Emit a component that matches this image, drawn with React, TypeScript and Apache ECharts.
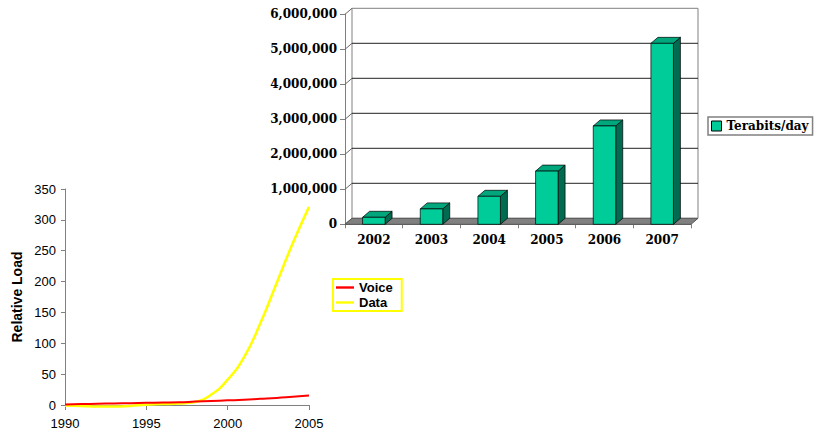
import React, { useEffect, useRef } from 'react';
import * as echarts from 'echarts';

// Left chart: relative load
const YEARS = [1990, 1991, 1992, 1993, 1994, 1995, 1996, 1997, 1998, 1999, 2000, 2001, 2002, 2003, 2004, 2005];
const VOICE = [1, 1.5, 2, 2.5, 3, 3.5, 4, 4.5, 5.5, 6.5, 7.5, 8.5, 10, 11.5, 13.5, 15.5];
const DATA = [-1, -1.5, -2.5, -2.5, -1.5, 0.5, 1.5, 2.5, 5, 17, 41, 77, 132, 197, 262, 321];

// Right chart: terabits/day
const BAR_YEARS = ['2002', '2003', '2004', '2005', '2006', '2007'];
const TERABITS = [200000, 440000, 800000, 1520000, 2810000, 5170000];
const BAR_TICKS = [0, 1000000, 2000000, 3000000, 4000000, 5000000, 6000000];

const DX = 7;
const DY = -6;

export default function App() {
  const ref = useRef<HTMLDivElement>(null);
  useEffect(() => {
    const chart = echarts.init(ref.current!, null, { renderer: 'svg' });
    const sans = 'Liberation Sans, Arial, sans-serif';
    const serif = 'DejaVu Serif, serif';
    const lineIcon = 'path://M0,0H18V2.4H0Z';
    const option: any = {
      animation: false,
      backgroundColor: '#fff',
      grid: [
        { left: 65, top: 189, width: 244, height: 216 },
        { left: 345, top: 14.3, width: 346, height: 210 },
      ],
      legend: [
        {
          data: [{ name: 'Voice', icon: lineIcon }, { name: 'Data', icon: lineIcon }],
          orient: 'vertical',
          left: 333,
          top: 279,
          padding: [2, 9, 2, 3],
          itemGap: 2,
          itemWidth: 18,
          itemHeight: 14,
          symbolKeepAspect: true,
          borderColor: '#ffff00',
          borderWidth: 2,
          selectedMode: false,
          textStyle: { fontFamily: sans, fontWeight: 'bold', fontSize: 13, color: '#000' },
        },
        {
          data: [{ name: 'Terabits/day', icon: 'rect', itemStyle: { borderColor: '#000', borderWidth: 1 } }],
          left: 708,
          top: 117,
          padding: [3, 4, 3, 3],
          itemWidth: 10,
          itemHeight: 10,
          borderColor: '#808080',
          borderWidth: 1.5,
          selectedMode: false,
          textStyle: { fontFamily: serif, fontWeight: 'bold', fontSize: 12, color: '#000' },
        },
      ],
      xAxis: [
        {
          gridIndex: 0,
          type: 'value',
          min: 1990,
          max: 2005,
          interval: 5,
          axisLine: { show: true, onZero: false, lineStyle: { color: '#808080' } },
          axisTick: { show: true, length: 5, lineStyle: { color: '#808080' } },
          axisLabel: { fontFamily: sans, fontSize: 13, color: '#000', margin: 12, formatter: (v: number) => String(v) },
          splitLine: { show: false },
        },
        {
          gridIndex: 1,
          type: 'category',
          data: BAR_YEARS,
          boundaryGap: true,
          axisLine: { show: true, lineStyle: { color: '#808080' } },
          axisTick: { show: true, length: 4, lineStyle: { color: '#808080' } },
          axisLabel: { fontFamily: serif, fontWeight: 'bold', fontSize: 12, color: '#000', margin: 10 },
          splitLine: { show: false },
        },
      ],
      yAxis: [
        {
          gridIndex: 0,
          type: 'value',
          min: 0,
          max: 350,
          interval: 50,
          name: 'Relative Load',
          nameLocation: 'middle',
          nameGap: 41,
          nameTextStyle: { fontFamily: sans, fontWeight: 'bold', fontSize: 14, color: '#000' },
          axisLine: { show: true, lineStyle: { color: '#808080' } },
          axisTick: { show: true, length: 4, lineStyle: { color: '#808080' } },
          axisLabel: { fontFamily: sans, fontSize: 13, color: '#000', margin: 9 },
          splitLine: { show: false },
        },
        {
          gridIndex: 1,
          type: 'value',
          min: 0,
          max: 6000000,
          interval: 1000000,
          axisLine: { show: true, lineStyle: { color: '#808080' } },
          axisTick: { show: true, length: 5, lineStyle: { color: '#808080' } },
          axisLabel: {
            fontFamily: serif,
            fontWeight: 'bold',
            fontSize: 12,
            color: '#000',
            margin: 8,
            formatter: (v: number) => v.toLocaleString('en-US'),
          },
          splitLine: { show: false },
        },
      ],
      series: [
        {
          name: 'Data',
          type: 'line',
          xAxisIndex: 0,
          yAxisIndex: 0,
          data: YEARS.map((y, i) => [y, DATA[i]]),
          symbol: 'none',
          smooth: 0.5,
          clip: false,
          lineStyle: { color: '#ffff00', width: 2.5 },
          itemStyle: { color: '#ffff00' },
          z: 2,
        },
        {
          name: 'Voice',
          type: 'line',
          xAxisIndex: 0,
          yAxisIndex: 0,
          data: YEARS.map((y, i) => [y, VOICE[i]]),
          symbol: 'none',
          smooth: 0.5,
          clip: false,
          lineStyle: { color: '#ff0000', width: 2 },
          itemStyle: { color: '#ff0000' },
          z: 3,
        },
        {
          name: 'frame',
          type: 'custom',
          xAxisIndex: 1,
          yAxisIndex: 1,
          data: [[0, 0]],
          silent: true,
          z: 1,
          renderItem: (params: any, api: any) => {
            const cs = params.coordSys;
            const x0 = cs.x;
            const x1 = cs.x + cs.width;
            const yb = cs.y + cs.height;
            const children: any[] = [];
            children.push({
              type: 'rect',
              shape: { x: x0 + DX, y: cs.y + DY, width: cs.width, height: cs.height },
              style: { fill: '#fff', stroke: '#808080', lineWidth: 1 },
            });
            BAR_TICKS.forEach((t) => {
              const y = api.coord([0, t])[1];
              if (t > 0 && t < BAR_TICKS[BAR_TICKS.length - 1]) {
                children.push({
                  type: 'line',
                  shape: { x1: x0 + DX, y1: y + DY, x2: x1 + DX, y2: y + DY },
                  style: { stroke: '#222', lineWidth: 1 },
                });
              }
              children.push({
                type: 'line',
                shape: { x1: x0, y1: y, x2: x0 + DX, y2: y + DY },
                style: { stroke: '#666', lineWidth: 1 },
              });
            });
            children.push({
              type: 'polygon',
              shape: { points: [[x0, yb], [x1, yb], [x1 + DX, yb + DY], [x0 + DX, yb + DY]] },
              style: { fill: '#808080', stroke: '#555', lineWidth: 1 },
            });
            return { type: 'group', children };
          },
        },
        {
          name: 'Terabits/day',
          type: 'custom',
          xAxisIndex: 1,
          yAxisIndex: 1,
          data: TERABITS.map((v, i) => [i, v]),
          encode: { x: 0, y: 1 },
          itemStyle: { color: '#00CC99' },
          z: 2,
          renderItem: (params: any, api: any) => {
            const i = api.value(0);
            const v = api.value(1);
            const top = api.coord([i, v]);
            const base = api.coord([i, 0]);
            const w = api.size([1, 0])[0] * 0.39;
            const cx = top[0];
            const yt = top[1];
            const yb = base[1];
            const xl = cx - w / 2;
            const xr = cx + w / 2;
            const st = { stroke: '#000', lineWidth: 0.7 };
            return {
              type: 'group',
              children: [
                {
                  type: 'polygon',
                  shape: { points: [[xr, yt], [xr + DX, yt + DY], [xr + DX, yb + DY], [xr, yb]] },
                  style: { fill: '#006B50', ...st },
                },
                {
                  type: 'polygon',
                  shape: { points: [[xl, yt], [xr, yt], [xr + DX, yt + DY], [xl + DX, yt + DY]] },
                  style: { fill: '#00A67C', ...st },
                },
                {
                  type: 'rect',
                  shape: { x: xl, y: yt, width: w, height: yb - yt },
                  style: { fill: '#00CC99', ...st },
                },
              ],
            };
          },
        },
      ],
    };
    chart.setOption(option);
    return () => chart.dispose();
  }, []);
  return <div ref={ref} style={{ position: 'fixed', left: 0, top: 0, width: 824, height: 435 }} />;
}
